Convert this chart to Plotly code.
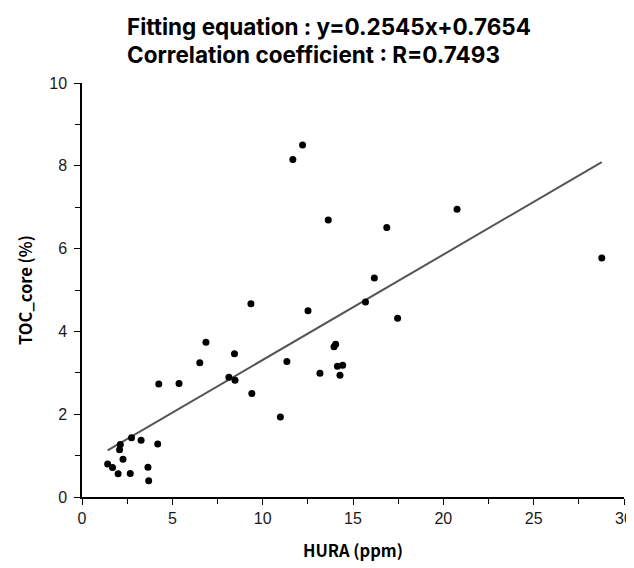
import plotly.graph_objects as go

# Data
hura_ppm = [1.42, 1.69, 2.00, 2.08, 2.12, 2.27, 2.67, 2.74, 3.27, 3.65, 3.69, 4.19,
            4.25, 5.37, 6.52, 6.86, 8.13, 8.44, 8.47, 9.35, 9.40, 10.98, 11.34, 11.67,
            12.21, 12.51, 13.17, 13.63, 13.95, 14.04, 14.14, 14.28, 14.43, 15.69, 16.18,
            16.87, 17.47, 20.76, 28.77]
toc_core = [0.80, 0.71, 0.56, 1.14, 1.27, 0.91, 0.57, 1.43, 1.37, 0.72, 0.39, 1.28,
            2.73, 2.74, 3.24, 3.74, 2.89, 3.46, 2.82, 4.67, 2.50, 1.93, 3.27, 8.15,
            8.50, 4.50, 2.99, 6.69, 3.63, 3.69, 3.16, 2.94, 3.18, 4.71, 5.29,
            6.51, 4.32, 6.95, 5.77]

fit_slope = 0.2545
fit_intercept = 0.7654
corr_r = 0.7493

x_ticks = [0, 5, 10, 15, 20, 25, 30]
y_ticks = [0, 2, 4, 6, 8, 10]

fit_x = [min(hura_ppm), max(hura_ppm)]
fit_y = [fit_slope * v + fit_intercept for v in fit_x]

fig = go.Figure()
fig.add_trace(go.Scatter(x=fit_x, y=fit_y, mode="lines",
                         line=dict(color="#555555", width=2), showlegend=False,
                         hoverinfo="skip"))
fig.add_trace(go.Scatter(x=hura_ppm, y=toc_core, mode="markers",
                         marker=dict(color="black", size=7), showlegend=False,
                         cliponaxis=False))

tickfont = dict(family="Liberation Sans, Arial, sans-serif", size=16, color="#1a1a1a")
titlefont = dict(family="Noto Sans CJK KR, Noto Sans, sans-serif", size=16.5, color="black")

fig.update_xaxes(range=[0, 30], tickvals=x_ticks, showline=True, linecolor="black",
                 linewidth=1.5, ticks="outside", ticklen=6, tickwidth=1.3, tickcolor="black",
                 minor=dict(ticks="outside", ticklen=5, tickwidth=1.3, tickcolor="black", dtick=2.5, showgrid=False),
                 showgrid=False, zeroline=False, tickfont=tickfont,
                 title=dict(text="<b>HURA (ppm)</b>", font=titlefont, standoff=19))
fig.update_yaxes(range=[0, 10], tickvals=y_ticks, showline=True, linecolor="black",
                 linewidth=1.5, ticks="outside", ticklen=6, tickwidth=1.3, tickcolor="black",
                 minor=dict(ticks="outside", ticklen=5, tickwidth=1.3, tickcolor="black", dtick=1, showgrid=False),
                 showgrid=False, zeroline=False, tickfont=tickfont, ticklabelstandoff=4,
                 title=dict(text="<b>TOC_core (%)</b>", font=titlefont, standoff=12))

title_lines = [f"<b>Fitting equation : y={fit_slope}x+{fit_intercept}</b>",
               f"<b>Correlation coefficient : R={corr_r}</b>"]
title_font = dict(family="Inter, Noto Sans, sans-serif", size=22.5, color="black")
# left-aligned block, starting at the same x for both lines
for text, shift in zip(title_lines, [57, 29]):
    fig.add_annotation(text=text, xref="paper", yref="paper", x=0.08, y=1.0,
                       yshift=shift, xanchor="left", yanchor="middle", showarrow=False,
                       align="left", font=title_font)

fig.update_layout(width=634, height=568, margin=dict(l=74, r=9, t=75, b=79),
                  plot_bgcolor="white", paper_bgcolor="white")

fig.write_html("out.html")
